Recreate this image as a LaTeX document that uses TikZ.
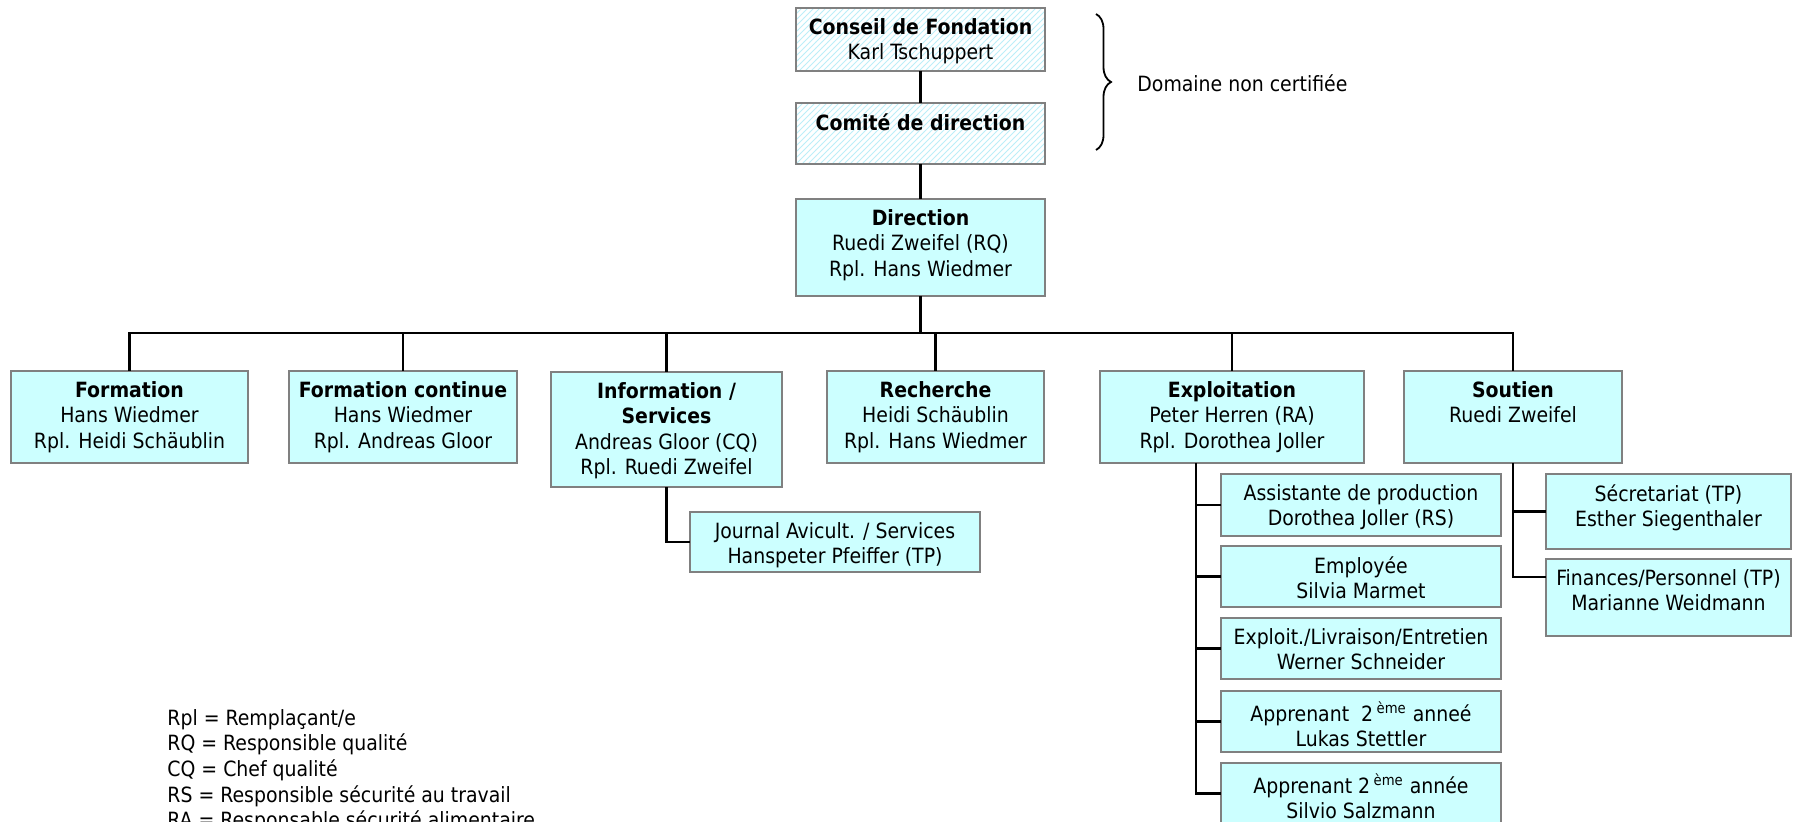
\documentclass[tikz,border=0pt]{standalone}
\usepackage{fontspec}
\setmainfont{DejaVu Sans Condensed}
\usetikzlibrary{patterns,decorations.pathreplacing}
\definecolor{boxfill}{HTML}{CCFFFF}
\definecolor{boxline}{HTML}{808080}
\definecolor{hatch}{HTML}{BCEEF8}
\newcommand\orgbox[7]{%
  \pgfmathsetmacro\bw{(#5-#3)*0.5}%
  \pgfmathsetmacro\bh{(#6-#4)*0.5}%
  \node[#1, minimum width=\bw pt, minimum height=\bh pt, label={[lbl]north:{#7}}] (#2) at ({(#3+#5)/2},{(#4+#6)/2}) {};%
}
\begin{document}
\begin{tikzpicture}[x=0.5pt,y=-0.5pt,
  txt/.style={font=\fontsize{10.5}{12.75}\selectfont, text=black, inner sep=0pt},
  lbl/.style={txt, anchor=north, align=center, yshift=-5pt},
  cbox/.style={draw=boxline, fill=boxfill, line width=1.4pt, inner sep=0pt, outer sep=0pt},
  hbox/.style={draw=boxline, line width=1.4pt, pattern=north east lines, pattern color=hatch, inner sep=0pt, outer sep=0pt},
  conn/.style={draw=black, line width=1.3pt}]
\useasboundingbox (0,0) rectangle (1793,822);

% top boxes
\orgbox{hbox}{conseil}{796}{8}{1045}{71}{\textbf{Conseil de Fondation}\\Karl Tschuppert}
\orgbox{hbox}{comite}{796}{103}{1045}{164}{\textbf{Comité de direction}}
\orgbox{cbox}{direction}{796}{199}{1045}{296}{\textbf{Direction}\\Ruedi Zweifel (RQ)\\Rpl. Hans Wiedmer}

% departments
\orgbox{cbox}{formation}{11}{371}{248}{463}{\textbf{Formation}\\Hans Wiedmer\\Rpl. Heidi Schäublin}
\orgbox{cbox}{fcont}{289}{371}{517}{463}{\textbf{Formation continue}\\Hans Wiedmer\\Rpl. Andreas Gloor}
\orgbox{cbox}{info}{551}{372}{782}{487}{\textbf{Information /}\\\textbf{Services}\\Andreas Gloor (CQ)\\Rpl. Ruedi Zweifel}
\orgbox{cbox}{recherche}{827}{371}{1044}{463}{\textbf{Recherche}\\Heidi Schäublin\\Rpl. Hans Wiedmer}
\orgbox{cbox}{exploit}{1100}{371}{1364}{463}{\textbf{Exploitation}\\Peter Herren (RA)\\Rpl. Dorothea Joller}
\orgbox{cbox}{soutien}{1404}{371}{1622}{463}{\textbf{Soutien}\\Ruedi Zweifel}

% sub boxes
\orgbox{cbox}{journal}{690}{512}{980}{572}{Journal Avicult. / Services\\Hanspeter Pfeiffer (TP)}
\orgbox{cbox}{assist}{1221}{474}{1501}{536}{Assistante de production\\Dorothea Joller (RS)}
\orgbox{cbox}{employee}{1221}{546}{1501}{607}{Employée\\Silvia Marmet}
\orgbox{cbox}{livraison}{1221}{618}{1501}{679}{Exploit./Livraison/Entretien\\Werner Schneider}
\orgbox{cbox}{lukas}{1221}{691}{1501}{752}{Apprenant\ \ 2\,\textsuperscript{ème} anneé\\Lukas Stettler}
\orgbox{cbox}{silvio}{1221}{763}{1501}{824}{Apprenant 2\,\textsuperscript{ème} année\\Silvio Salzmann}
\orgbox{cbox}{secret}{1546}{474}{1791}{549}{Sécretariat (TP)\\Esther Siegenthaler}
\orgbox{cbox}{finances}{1546}{559}{1791}{636}{Finances/Personnel (TP)\\Marianne Weidmann}

% connectors
\coordinate (busy) at (0,333);
\coordinate (etrunk) at (1196,0);
\coordinate (ftap) at (0,577);
\draw[conn] (conseil.south) -- (comite.north);
\draw[conn] (comite.south) -- (direction.north);
\draw[conn] (direction.south) -- (direction.south |- busy);
\draw[conn] (formation.north) -- (formation.north |- busy) -| (soutien.north);
\foreach \n in {fcont,info,recherche,exploit}
  \draw[conn] (\n.north) -- (\n.north |- busy);
\draw[conn] (info.south) |- (journal.west);
\draw[conn] (exploit.south -| etrunk) -- (etrunk |- silvio.west) -- (silvio.west);
\foreach \n in {assist,employee,livraison,lukas}
  \draw[conn] (etrunk |- \n.west) -- (\n.west);
\draw[conn] (soutien.south) -- (soutien.south |- ftap) -- (finances.west |- ftap);
\draw[conn] (soutien.south |- secret.west) -- (secret.west);

% brace and notes
\draw[line width=0.9pt, decorate, decoration={brace, amplitude=7.5pt}] (1096,14) -- (1096,150);
\node[txt, anchor=west] (domaine) at (1137,83) {Domaine non certifiée};
\node[txt, anchor=north west, align=left, font=\fontsize{10.5}{12.8}\selectfont] (legend) at (167,709)
  {Rpl = Remplaçant/e\\RQ = Responsible qualité\\CQ = Chef qualité\\RS = Responsible sécurité au travail\\RA = Responsable sécurité alimentaire};
\end{tikzpicture}
\end{document}
